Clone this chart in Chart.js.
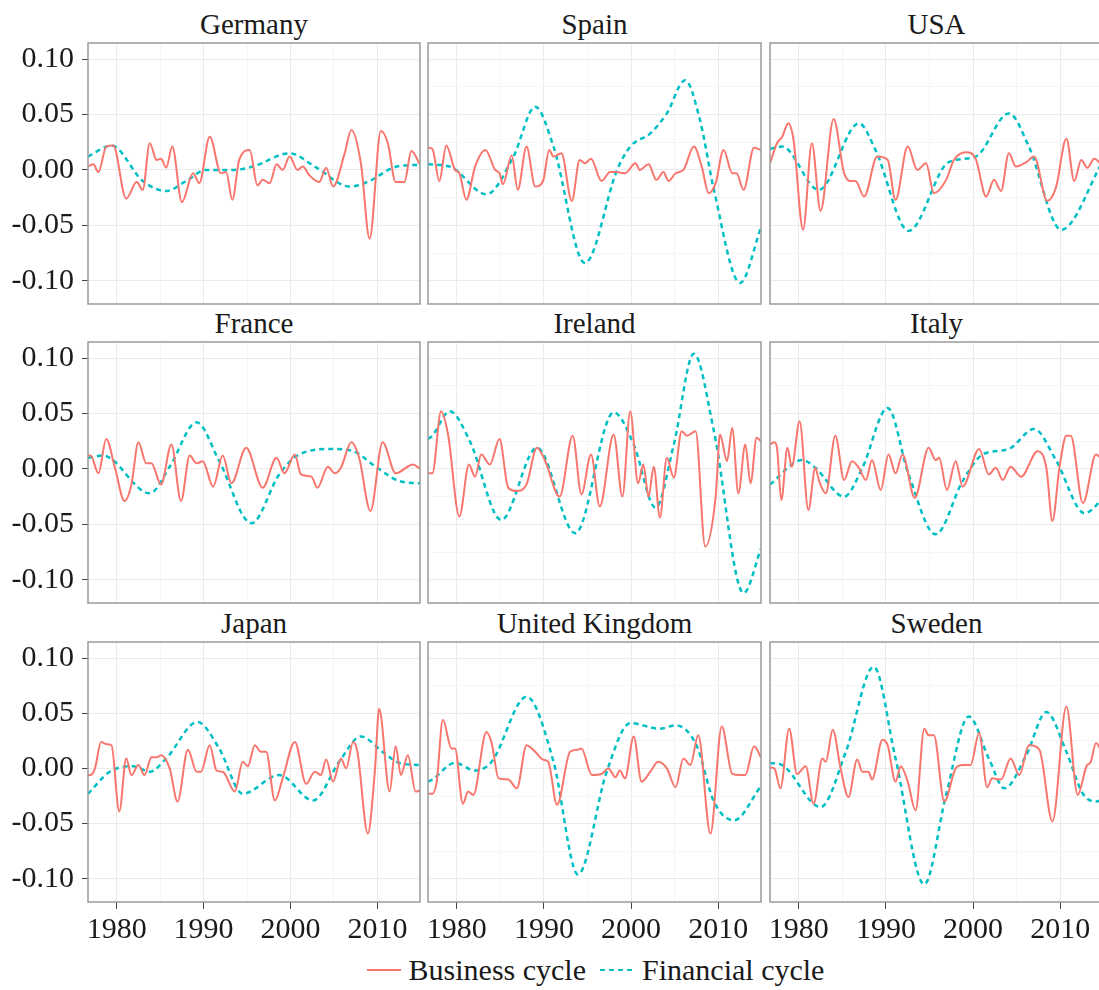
<!DOCTYPE html>
<html>
<head>
<meta charset="utf-8">
<script src="https://cdn.jsdelivr.net/npm/chart.js@4.4.1/dist/chart.umd.min.js"></script>
<style>
  body { margin: 0; background: #fff; }
  #wrap { position: relative; width: 1099px; height: 990px; overflow: hidden; background: #fff;
          font-family: "Liberation Serif", "Times New Roman", serif; color: #1a1a1a; }
  #wrap canvas { position: absolute; }
  .title { position: absolute; text-align: center; font-size: 29px; line-height: 32px; white-space: nowrap; }
  #legend { position: absolute; left: 88px; top: 953px; width: 1015px; display: flex; justify-content: center;
            align-items: center; font-size: 30px; line-height: 34px; }
  .key { display: inline-block; width: 34px; height: 2px; margin-right: 8px; }
  .key.bc { background: #F8766D; }
  .key.fc { height: 2.5px; background: repeating-linear-gradient(to right, #00BFC4 0 5px, transparent 5px 9px); margin-left: 14px; }
</style>
</head>
<body>
<div id="wrap">
  <div id="legend"><span class="key bc"></span>Business cycle<span class="key fc"></span>Financial cycle</div>
</div>
<script>
// facet grid: business vs financial cycle by country

const countries = ['Germany', 'Spain', 'USA', 'France', 'Ireland', 'Italy', 'Japan', 'United Kingdom', 'Sweden'];
const yTicks = [-0.10, -0.05, 0.00, 0.05, 0.10];
const xTicks = [1980, 1990, 2000, 2010];
const yMinor = [-0.075, -0.025, 0.025, 0.075];
const xMinor = [1985, 1995, 2005];

// [year, value] turning points
const bcGermany = [[1976.7,0.003],[1977.3,0.005],[1977.9,-0.002],[1978.8,0.021],[1979.6,0.022],[1981.1,-0.026],[1982.3,-0.011],[1983.0,-0.018],[1983.8,0.024],[1984.6,0.009],[1985.1,0.010],[1985.7,0.002],[1986.4,0.021],[1987.5,-0.029],[1988.8,-0.003],[1989.5,-0.012],[1990.7,0.030],[1992.0,-0.003],[1992.6,-0.002],[1993.3,-0.027],[1994.1,0.009],[1995.3,0.018],[1996.2,-0.014],[1996.8,-0.009],[1997.6,-0.012],[1998.4,0.005],[1999.1,0.000],[1999.9,0.012],[2000.8,0.000],[2001.4,0.003],[2002.2,-0.005],[2003.3,-0.011],[2004.1,0.002],[2004.9,-0.015],[2006.2,0.014],[2007.0,0.036],[2008.1,0.006],[2009.1,-0.062],[2010.4,0.035],[2011.2,0.024],[2012.1,-0.011],[2013.1,-0.011],[2013.9,0.017],[2014.9,0.005]];
const fcGermany = [[1976.7,0.012],[1979.4,0.022],[1983.0,-0.010],[1985.7,-0.019],[1988.0,-0.010],[1990.3,0.000],[1993.4,0.000],[1995.7,0.003],[1999.9,0.015],[2003.0,0.002],[2006.8,-0.015],[2009.1,-0.010],[2011.8,0.002],[2014.9,0.005]];

const bcSpain = [[1976.7,0.020],[1977.2,0.019],[1978.0,-0.010],[1978.8,0.022],[1979.8,0.000],[1980.3,-0.003],[1981.1,-0.027],[1982.1,0.003],[1983.3,0.018],[1984.4,0.000],[1984.9,-0.003],[1985.3,-0.013],[1986.3,0.013],[1987.0,-0.018],[1988.0,0.021],[1989.0,-0.015],[1989.9,-0.010],[1990.6,0.018],[1991.1,0.012],[1992.0,0.015],[1993.2,-0.028],[1994.1,0.009],[1994.7,0.006],[1995.4,0.010],[1996.6,-0.010],[1997.6,-0.002],[1998.4,-0.002],[1999.3,-0.003],[2000.5,0.006],[2001.0,0.000],[2002.0,0.005],[2002.9,-0.009],[2003.7,-0.002],[2004.3,-0.010],[2005.1,-0.003],[2006.0,0.000],[2007.2,0.021],[2008.1,0.003],[2008.9,-0.021],[2009.7,-0.012],[2010.6,0.018],[2011.6,-0.003],[2012.1,-0.003],[2012.9,-0.018],[2014.1,0.020],[2014.9,0.018]];
const fcSpain = [[1976.7,0.005],[1979.2,0.003],[1983.4,-0.022],[1986.5,0.012],[1989.0,0.057],[1991.1,0.021],[1994.7,-0.084],[1998.4,0.000],[1999.9,0.021],[2002.2,0.033],[2004.1,0.051],[2006.2,0.081],[2007.9,0.045],[2009.5,-0.018],[2012.5,-0.102],[2014.9,-0.052]];

const bcUSA = [[1976.7,0.006],[1977.5,0.024],[1978.1,0.030],[1978.8,0.042],[1979.4,0.027],[1980.5,-0.054],[1981.5,0.024],[1982.5,-0.037],[1984.0,0.046],[1985.2,-0.003],[1985.9,-0.010],[1986.5,-0.010],[1987.5,-0.024],[1989.0,0.012],[1990.2,0.009],[1991.1,-0.027],[1992.5,0.021],[1993.6,0.000],[1994.6,0.006],[1995.5,-0.021],[1996.9,-0.009],[1997.8,0.009],[1999.2,0.016],[2000.3,0.010],[2001.5,-0.024],[2002.4,-0.009],[2003.2,-0.019],[2004.1,0.015],[2004.9,0.003],[2006.1,0.007],[2007.0,0.012],[2008.5,-0.028],[2009.5,-0.016],[2010.7,0.028],[2011.6,-0.010],[2012.4,0.009],[2013.1,0.002],[2013.9,0.010],[2014.9,0.003]];
const fcUSA = [[1976.7,0.019],[1978.1,0.021],[1982.3,-0.018],[1986.9,0.042],[1988.8,0.018],[1992.6,-0.055],[1997.2,0.007],[2000.3,0.012],[2004.1,0.051],[2006.4,0.021],[2010.1,-0.054],[2014.9,0.008]];

const bcFrance = [[1976.7,0.012],[1977.0,0.012],[1977.9,-0.004],[1978.8,0.027],[1979.8,0.001],[1980.9,-0.029],[1981.7,-0.014],[1982.5,0.024],[1983.4,0.005],[1984.0,0.005],[1985.1,-0.014],[1986.3,0.022],[1987.4,-0.029],[1988.4,0.012],[1989.2,0.005],[1989.9,0.007],[1991.1,-0.016],[1992.2,0.012],[1993.2,-0.013],[1994.9,0.019],[1996.8,-0.017],[1998.4,0.010],[1999.3,-0.004],[2000.5,0.013],[2001.2,-0.005],[2002.4,-0.007],[2003.1,-0.017],[2004.3,0.002],[2005.1,-0.004],[2005.8,0.001],[2007.0,0.024],[2007.9,0.010],[2009.2,-0.038],[2010.6,0.024],[2012.1,-0.004],[2014.1,0.004],[2014.9,0.000]];
const fcFrance = [[1976.7,0.010],[1978.4,0.012],[1983.8,-0.022],[1986.1,0.002],[1989.2,0.042],[1991.8,0.007],[1995.5,-0.049],[1998.7,-0.005],[2001.0,0.013],[2004.9,0.018],[2007.2,0.016],[2009.8,0.002],[2012.5,-0.011],[2014.9,-0.013]];

const bcIreland = [[1976.7,-0.004],[1977.2,-0.004],[1978.2,0.052],[1979.0,0.031],[1980.3,-0.043],[1981.4,0.004],[1982.1,-0.007],[1982.8,0.013],[1983.8,0.004],[1984.9,0.027],[1985.9,-0.017],[1986.9,-0.020],[1988.0,-0.014],[1989.2,0.019],[1990.1,0.008],[1991.8,-0.025],[1993.3,0.030],[1994.3,-0.023],[1995.4,0.013],[1996.4,-0.034],[1998.0,0.031],[1999.0,-0.025],[1999.9,0.052],[2000.8,-0.013],[2001.4,0.004],[2002.0,-0.025],[2002.6,0.002],[2003.3,-0.044],[2004.1,0.010],[2004.9,-0.008],[2005.8,0.034],[2006.4,0.030],[2007.4,0.034],[2008.5,-0.070],[2009.7,-0.025],[2010.2,0.031],[2011.0,0.007],[2011.6,0.037],[2012.3,-0.022],[2013.1,0.022],[2013.7,-0.013],[2014.4,0.028],[2014.9,0.025]];
const fcIreland = [[1976.7,0.027],[1977.2,0.030],[1979.2,0.052],[1981.5,0.025],[1985.1,-0.046],[1989.2,0.019],[1993.6,-0.058],[1998.0,0.051],[2000.3,0.022],[2002.8,-0.035],[2004.9,0.022],[2007.2,0.104],[2009.5,0.034],[2012.9,-0.112],[2014.9,-0.072]];

const bcItaly = [[1976.7,0.022],[1977.2,0.024],[1977.5,0.019],[1978.0,-0.028],[1978.7,0.019],[1979.2,0.002],[1980.1,0.043],[1981.1,-0.037],[1981.9,0.001],[1982.3,-0.010],[1983.1,-0.022],[1984.2,0.030],[1985.2,-0.010],[1986.1,0.007],[1986.9,0.001],[1987.7,-0.010],[1988.4,0.008],[1989.4,-0.019],[1990.3,0.013],[1991.1,-0.004],[1991.9,0.013],[1993.3,-0.026],[1994.9,0.019],[1995.7,0.008],[1996.1,0.010],[1997.0,-0.019],[1998.0,0.007],[1998.8,-0.016],[2000.7,0.018],[2001.8,-0.005],[2002.6,0.001],[2003.4,-0.010],[2004.3,0.002],[2005.5,-0.007],[2007.4,0.016],[2008.4,0.001],[2009.1,-0.047],[2009.9,0.001],[2010.7,0.030],[2011.2,0.030],[2012.6,-0.031],[2014.1,0.013],[2014.9,0.007]];
const fcItaly = [[1976.7,-0.014],[1980.4,0.008],[1981.9,0.001],[1985.2,-0.025],[1987.3,0.001],[1990.2,0.055],[1992.6,-0.005],[1995.7,-0.059],[1998.8,-0.011],[2001.1,0.013],[2004.1,0.018],[2007.0,0.036],[2009.5,0.008],[2012.8,-0.040],[2014.9,-0.027]];

const bcJapan = [[1976.7,-0.006],[1977.0,-0.006],[1977.5,0.000],[1978.2,0.024],[1978.8,0.022],[1979.4,0.021],[1980.3,-0.039],[1981.1,0.009],[1981.7,-0.006],[1982.5,0.003],[1983.2,-0.006],[1984.0,0.010],[1984.6,0.010],[1985.1,0.012],[1986.1,0.000],[1987.0,-0.030],[1988.2,0.017],[1989.2,-0.003],[1989.7,-0.003],[1990.7,0.021],[1991.5,-0.002],[1992.2,-0.003],[1993.6,-0.021],[1994.5,0.006],[1995.1,0.002],[1995.9,0.021],[1996.6,0.015],[1997.2,0.015],[1998.2,-0.029],[1999.1,-0.009],[2000.5,0.024],[2001.8,-0.014],[2002.8,-0.003],[2003.5,-0.006],[2004.1,0.008],[2004.9,-0.012],[2005.8,0.009],[2006.4,0.000],[2007.2,0.024],[2007.7,0.015],[2008.9,-0.059],[2009.7,-0.003],[2010.2,0.054],[2011.4,-0.021],[2012.1,0.020],[2012.7,-0.006],[2013.5,0.012],[2014.4,-0.021],[2014.9,-0.020]];
const fcJapan = [[1976.7,-0.023],[1979.2,-0.003],[1981.9,0.002],[1983.8,-0.003],[1985.7,0.009],[1989.3,0.042],[1991.8,0.018],[1994.5,-0.023],[1998.7,-0.006],[2002.6,-0.029],[2005.6,0.006],[2008.1,0.029],[2010.6,0.015],[2012.5,0.005],[2014.9,0.003]];

const bcUK = [[1976.7,-0.023],[1977.2,-0.023],[1977.7,-0.012],[1978.4,0.044],[1979.4,0.018],[1979.8,0.018],[1980.7,-0.032],[1981.3,-0.021],[1981.9,-0.024],[1983.4,0.033],[1984.0,0.023],[1984.8,-0.009],[1985.9,-0.010],[1986.9,-0.018],[1988.0,0.021],[1989.0,0.015],[1989.9,0.008],[1990.5,0.006],[1991.5,-0.033],[1993.0,0.015],[1993.9,0.017],[1994.3,0.018],[1995.5,-0.006],[1996.6,-0.005],[1997.4,0.000],[1998.2,-0.008],[1998.7,-0.002],[1999.3,-0.009],[2000.3,0.029],[2001.2,-0.012],[2002.2,-0.003],[2003.1,0.006],[2004.1,0.000],[2005.1,-0.017],[2006.0,0.009],[2006.8,0.003],[2007.7,0.030],[2009.1,-0.059],[2010.4,0.038],[2011.6,-0.005],[2012.5,-0.006],[2013.1,-0.006],[2014.1,0.020],[2014.9,0.010]];
const fcUK = [[1976.7,-0.012],[1977.2,-0.010],[1979.8,0.005],[1982.1,-0.002],[1984.0,0.006],[1988.0,0.065],[1991.1,0.006],[1993.9,-0.096],[1997.2,-0.003],[1999.9,0.041],[2003.3,0.036],[2005.1,0.039],[2007.5,0.021],[2009.5,-0.030],[2011.8,-0.047],[2014.9,-0.016]];

const bcSweden = [[1976.7,0.001],[1977.2,0.000],[1977.9,-0.018],[1978.9,0.036],[1979.8,-0.005],[1980.8,0.002],[1981.7,-0.032],[1982.7,0.009],[1983.1,0.006],[1983.9,0.035],[1984.8,0.000],[1985.7,-0.026],[1986.7,0.008],[1987.3,-0.003],[1988.0,-0.003],[1988.4,-0.010],[1989.6,0.026],[1990.2,0.021],[1991.1,-0.012],[1991.7,0.002],[1992.5,-0.012],[1993.4,-0.038],[1994.4,0.036],[1994.9,0.030],[1995.5,0.030],[1996.7,-0.030],[1998.0,0.000],[1998.8,0.003],[1999.7,0.003],[2000.7,0.032],[2001.6,-0.017],[2002.2,-0.009],[2003.2,-0.010],[2004.3,0.009],[2005.3,-0.006],[2006.4,0.021],[2007.6,0.017],[2009.1,-0.048],[2010.7,0.056],[2012.0,-0.024],[2013.0,0.002],[2013.5,0.006],[2014.1,0.023],[2014.9,0.012]];
const fcSweden = [[1976.7,0.005],[1978.1,0.003],[1982.5,-0.035],[1985.4,0.015],[1988.6,0.092],[1991.1,0.009],[1994.4,-0.105],[1996.9,-0.024],[1999.5,0.047],[2001.8,0.009],[2003.6,-0.018],[2006.1,0.012],[2008.4,0.051],[2010.7,0.015],[2012.6,-0.023],[2014.1,-0.030],[2014.9,-0.028]];

const businessSeries = [bcGermany, bcSpain, bcUSA, bcFrance, bcIreland, bcItaly, bcJapan, bcUK, bcSweden];
const financialSeries = [fcGermany, fcSpain, fcUSA, fcFrance, fcIreland, fcItaly, fcJapan, fcUK, fcSweden];

// panel boxes in page pixels
const colX = [[88, 420], [428, 761], [770, 1103]];
const rowY = [[43, 304], [342, 603], [642, 902]];
const pad = 2;

const tickFont = { family: '"Liberation Serif", "Times New Roman", serif', size: 30 };
const isMajor = (v, list) => list.some(t => Math.abs(t - v) < 1e-6);

const boxPlugin = {
  id: 'box',
  afterDatasetsDraw(chart) {
    const a = chart.chartArea, ctx = chart.ctx;
    ctx.save();
    ctx.strokeStyle = '#9a9a9a';
    ctx.lineWidth = 1.5;
    ctx.strokeRect(a.left, a.top, a.right - a.left, a.bottom - a.top);
    ctx.restore();
  }
};

const wrap = document.getElementById('wrap');

countries.forEach((name, i) => {
  const r = Math.floor(i / 3), c = i % 3;
  const [pl, pr] = colX[c], [pt, pb] = rowY[r];
  const yW = c === 0 ? 88 : 0;
  const xH = r === 2 ? 56 : 0;
  const padL = c === 0 ? 0 : pad, padB = r === 2 ? 0 : pad;

  const title = document.createElement('div');
  title.className = 'title';
  title.textContent = name;
  title.style.left = pl + 'px';
  title.style.width = (pr - pl) + 'px';
  title.style.top = (pt - 35) + 'px';
  wrap.appendChild(title);

  const cv = document.createElement('canvas');
  const w = yW + padL + (pr - pl) + pad, h = pad + (pb - pt) + xH + padB;
  cv.width = w; cv.height = h;
  cv.style.left = (pl - yW - padL) + 'px';
  cv.style.top = (pt - pad) + 'px';
  cv.style.width = w + 'px'; cv.style.height = h + 'px';
  wrap.appendChild(cv);

  new Chart(cv, {
    type: 'line',
    data: {
      datasets: [{
        label: 'Business cycle',
        data: businessSeries[i].map(p => ({ x: p[0], y: p[1] })),
        borderColor: '#F8766D',
        borderWidth: 2,
        pointRadius: 0,
        cubicInterpolationMode: 'monotone'
      }, {
        label: 'Financial cycle',
        data: financialSeries[i].map(p => ({ x: p[0], y: p[1] })),
        borderColor: '#00BFC4',
        borderWidth: 2.5,
        borderDash: [5, 4],
        pointRadius: 0,
        cubicInterpolationMode: 'monotone'
      }]
    },
    options: {
      responsive: false,
      animation: false,
      events: [],
      layout: { padding: { left: padL, right: pad, top: pad, bottom: padB } },
      plugins: { legend: { display: false }, tooltip: { enabled: false } },
      scales: {
        x: {
          type: 'linear',
          min: 1976.7,
          max: 2014.9,
          afterBuildTicks: s => { s.ticks = xTicks.concat(xMinor).sort((a, b) => a - b).map(v => ({ value: v })); },
          afterFit: s => { s.height = xH; s.paddingLeft = 0; s.paddingRight = 0; },
          border: { display: false },
          grid: {
            color: ctx => isMajor(ctx.tick.value, xTicks) ? '#ebebeb' : '#f5f5f5',
            tickColor: ctx => isMajor(ctx.tick.value, xTicks) ? '#444' : 'rgba(0,0,0,0)',
            drawTicks: r === 2,
            tickLength: 7
          },
          ticks: {
            display: r === 2,
            autoSkip: false,
            maxRotation: 0,
            padding: 3,
            color: '#1a1a1a',
            font: tickFont,
            callback: v => isMajor(v, xTicks) ? String(v) : ''
          }
        },
        y: {
          min: -0.121,
          max: 0.1145,
          afterBuildTicks: s => { s.ticks = yTicks.concat(yMinor).sort((a, b) => a - b).map(v => ({ value: v })); },
          afterFit: s => { s.width = yW; s.paddingTop = 0; s.paddingBottom = 0; },
          border: { display: false },
          grid: {
            color: ctx => isMajor(ctx.tick.value, yTicks) ? '#ebebeb' : '#f5f5f5',
            tickColor: ctx => isMajor(ctx.tick.value, yTicks) ? '#444' : 'rgba(0,0,0,0)',
            drawTicks: c === 0,
            tickLength: 6
          },
          ticks: {
            display: c === 0,
            padding: 8,
            color: '#1a1a1a',
            font: tickFont,
            callback: v => isMajor(v, yTicks) ? v.toFixed(2) : ''
          }
        }
      }
    },
    plugins: [boxPlugin]
  });
});
</script>
</body>
</html>
